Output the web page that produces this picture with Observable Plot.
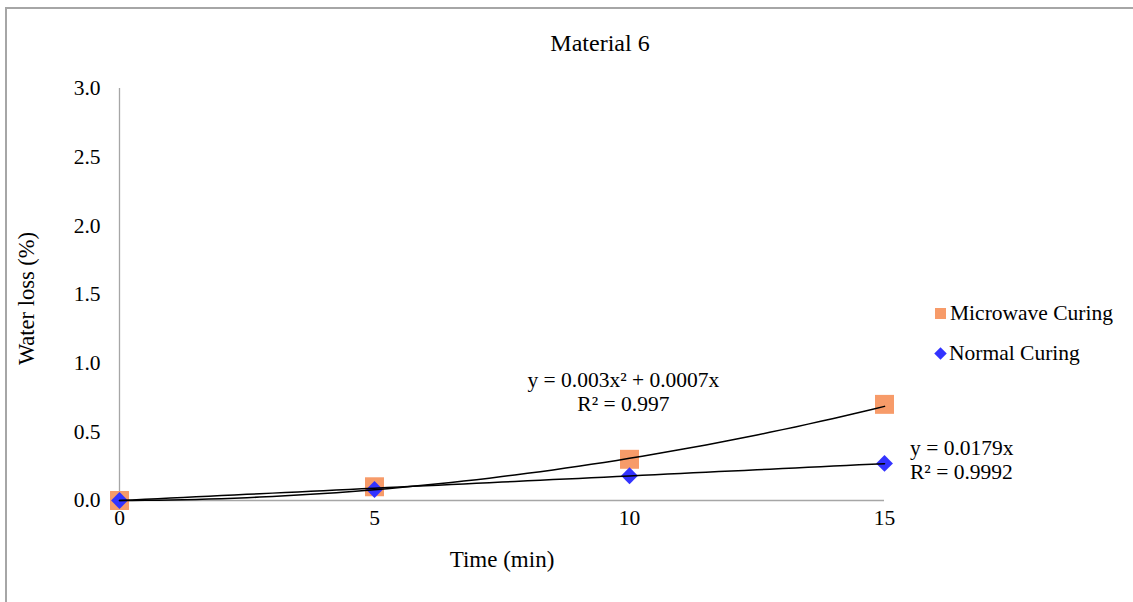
<!DOCTYPE html>
<html>
<head>
<meta charset="utf-8">
<script src="https://cdn.jsdelivr.net/npm/d3@7"></script>
<script src="https://cdn.jsdelivr.net/npm/@observablehq/plot@0.6"></script>
<style>
  html, body { margin: 0; padding: 0; background: #fff; }
  #wrap { position: relative; width: 1133px; height: 602px; overflow: hidden; font-family: "Liberation Serif", "Times New Roman", serif; color: #000; }
  #frame { position: absolute; left: 5px; top: 7px; width: 1140px; height: 610px; border-left: 2px solid #a6a6a6; border-top: 2px solid #a6a6a6; box-sizing: border-box; }
  #title { position: absolute; left: 0; width: 1200px; top: 30px; text-align: center; font-size: 24px; }
  #legend { position: absolute; left: 935px; top: 299px; font-size: 21.5px; }
  .item { display: flex; align-items: center; height: 28px; margin-bottom: 12px; }
  .sw { width: 11px; height: 11px; margin-right: 4px; }
  #plot { position: absolute; left: 0; top: 0; }
</style>
</head>
<body>
<div id="wrap">
  <div id="frame"></div>
  <div id="plot"></div>
  <div id="title">Material 6</div>
  <div id="legend"></div>
</div>
<script>
const times = [0, 5, 10, 15];
const microwave = [0, 0.1, 0.3, 0.7];
const normal = [0, 0.08, 0.18, 0.27];
const seriesNames = ["Microwave Curing", "Normal Curing"];
const seriesColors = ["#f79b69", "#3333ff"];
const yTicks = [0, 0.5, 1.0, 1.5, 2.0, 2.5, 3.0];
const xTicks = [0, 5, 10, 15];
// trend line coefficients (as printed on the chart)
const quadA = 0.003, quadB = 0.0007;
const linA = 0.0179;
const eqLabels = [
  {x: 9.88, y: 0.88, text: "y = 0.003x² + 0.0007x"},
  {x: 9.88, y: 0.70, text: "R² = 0.997"},
  {x: 15.5, y: 0.385, text: "y = 0.0179x"},
  {x: 15.5, y: 0.205, text: "R² = 0.9992"}
];

const mw = times.map((t, i) => ({t, v: microwave[i]}));
const nc = times.map((t, i) => ({t, v: normal[i]}));
const xs = d3.range(0, 15.001, 0.25);
const quad = xs.map(x => ({t: x, v: quadA * x * x + quadB * x}));
const lin = xs.map(x => ({t: x, v: linA * x}));

const fs = 21.5;
const chart = Plot.plot({
  width: 1133,
  height: 602,
  marginLeft: 119,
  marginRight: 249,
  marginTop: 88,
  marginBottom: 102,
  style: {fontFamily: "Liberation Serif, Times New Roman, serif", fontSize: fs + "px", background: "transparent", overflow: "visible"},
  x: {domain: [0, 15]},
  y: {domain: [0, 3]},
  marks: [
    Plot.ruleX([0], {y1: 0, y2: 3, stroke: "#a6a6a6", strokeWidth: 1.3}),
    Plot.ruleY([0], {x1: 0, x2: 15, stroke: "#a6a6a6", strokeWidth: 1.3}),
    Plot.axisY({ticks: yTicks, tickSize: 0, tickPadding: 19, tickFormat: d3.format(".1f"), label: null, fontSize: fs, fill: "#000"}),
    Plot.axisX({ticks: xTicks, tickSize: 0, tickPadding: 9, label: null, fontSize: fs, fill: "#000"}),
    Plot.dot(mw, {x: "t", y: "v", symbol: "square", r: 10.7, fill: seriesColors[0], stroke: null}),
    Plot.dot(nc, {x: "t", y: "v", symbol: "diamond2", r: 7.6, fill: seriesColors[1], stroke: null}),
    Plot.line(quad, {x: "t", y: "v", stroke: "#000", strokeWidth: 1.5}),
    Plot.line(lin, {x: "t", y: "v", stroke: "#000", strokeWidth: 1.5}),
    Plot.text(eqLabels.slice(0, 2), {x: "x", y: "y", text: "text", textAnchor: "middle", fontSize: fs, fill: "#000"}),
    Plot.text(eqLabels.slice(2), {x: "x", y: "y", text: "text", textAnchor: "start", fontSize: fs, fill: "#000"}),
    Plot.text(["Time (min)"], {frameAnchor: "bottom", dy: 66, fontSize: 23, fill: "#000"}),
    Plot.text(["Water loss (%)"], {frameAnchor: "left", textAnchor: "middle", dx: -93, dy: 4, rotate: -90, fontSize: 22.5, fill: "#000"})
  ]
});
document.getElementById("plot").appendChild(chart);

const legend = document.getElementById("legend");
seriesNames.forEach((name, i) => {
  const item = document.createElement("div");
  item.className = "item";
  const sw = document.createElement("div");
  sw.className = "sw";
  sw.style.background = seriesColors[i];
  if (i === 1) { sw.style.transform = "rotate(45deg) scale(0.8)"; sw.style.marginRight = "3px"; }
  item.appendChild(sw);
  const lab = document.createElement("span");
  lab.textContent = name;
  item.appendChild(lab);
  legend.appendChild(item);
});
</script>
</body>
</html>
